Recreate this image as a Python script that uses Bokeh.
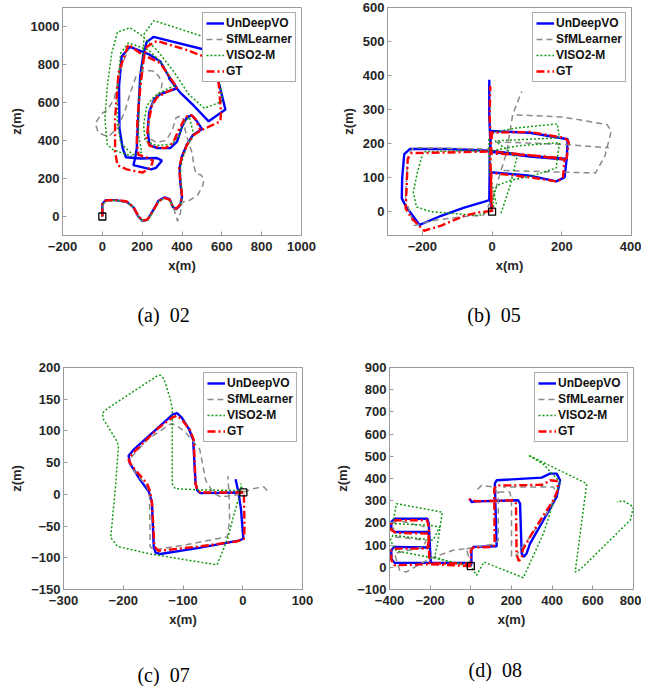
from bokeh.plotting import figure
from bokeh.models import FixedTicker
from bokeh.core.properties import value
from bokeh.layouts import column, row
from bokeh.embed import file_html
from bokeh.resources import INLINE

nan = float("nan")

# ---------------- (a) sequence 02 ----------------
a_und_x = [0, 0, 17, 64, 123, 156, 181, 203, 227, 254, 282, 311, 338, 354, 371, 391, 400, 391, 388, 400, 425, 455, 501, 475, 450, 425, 400, 375, 341, 274, 237, 228, 235, 260, 291, 375, 333, 291, 232, 139, 97, 84, 86, 102, 119, 190, 274, 299, 270, 244, 156, 165, 173, 181, 190, 207, 223, 257, 576, 585, 618, 534, 459, 391, 333]
a_und_y = [0, 66, 86, 86, 77, 48, 0, -24, -16, 31, 83, 100, 91, 50, 38, 60, 102, 188, 256, 317, 380, 429, 460, 501, 532, 523, 472, 394, 360, 360, 377, 446, 549, 618, 644, 675, 738, 816, 855, 893, 842, 687, 463, 360, 312, 305, 308, 294, 256, 248, 270, 308, 360, 549, 738, 859, 919, 945, 862, 704, 563, 501, 583, 652, 730]
a_sfm_x = [0, 0, 20, 65, 122, 158, 183, 205, 229, 255, 283, 310, 335, 352, 362, 372, 378, 392, 400, 440, 480, 505, 510, 495, 470, 460, 452, 430, 412, 412, 395, 370, 350, 320, 270, 240, 232, 240, 262, 295, 300, 285, 260, 210, 170, 140, 115, 80, 30, -20, -35, -5, 25, 60, 80, 100, 130]
a_sfm_y = [0, 62, 80, 85, 76, 45, 0, -25, -18, 25, 78, 95, 85, 55, 30, -5, -25, 20, 75, 86, 115, 165, 195, 220, 225, 265, 330, 400, 470, 505, 530, 520, 450, 400, 390, 410, 460, 560, 620, 665, 700, 735, 765, 770, 740, 650, 560, 470, 420, 440, 490, 540, 560, 620, 720, 800, 880]
a_viso_x = [0, 2, 20, 66, 125, 158, 183, 205, 229, 256, 284, 312, 339, 356, 372, 392, 402, 394, 392, 405, 425, 459, 437, 405, 383, 349, 274, 215, 207, 223, 260, 316, 366, 333, 291, 232, 131, 92, 76, 76, 92, 153, 198, 181, 186, 203, 210, 260, 512, 573, 601, 598, 512, 433, 358, 274, 190, 139, 76, 47, 25, 13, 25, 55, 148]
a_viso_y = [0, 62, 82, 85, 76, 46, -2, -25, -17, 27, 80, 96, 87, 52, 38, 62, 108, 190, 255, 310, 370, 429, 523, 489, 420, 382, 373, 398, 480, 583, 632, 666, 690, 747, 816, 876, 914, 859, 669, 497, 385, 325, 339, 429, 669, 824, 962, 1031, 945, 773, 635, 604, 570, 644, 764, 876, 959, 993, 971, 859, 687, 515, 377, 351, 317]
a_gt_x = [0, 0, 18, 64, 123, 156, 181, 203, 227, 254, 282, 311, 338, 354, 371, 391, 400, 391, 386, 400, 425, 459, 497, 593, 596, 585, 576, 425, 274, 223, 207, 190, 176, 173, 181, 223, 254, 244, 203, 123, 76, 64, 64, 81, 131, 190, 291, 341, 375, 316, 274, 249, 232, 223, 237, 274, 316, 354, 383, 417, 445, 467, 492]
a_gt_y = [0, 64, 84, 88, 79, 50, 2, -22, -15, 29, 81, 98, 89, 53, 41, 64, 110, 188, 256, 317, 377, 429, 454, 501, 549, 687, 816, 876, 924, 893, 824, 669, 515, 394, 325, 311, 294, 260, 231, 248, 270, 342, 515, 756, 905, 859, 807, 730, 678, 652, 626, 583, 497, 411, 372, 365, 360, 385, 454, 523, 535, 515, 454]
a_start_x = [0]
a_start_y = [0]
a_xticks = [-200, 0, 200, 400, 600, 800, 1000]
a_yticks = [0, 200, 400, 600, 800, 1000]

# ---------------- (b) sequence 05 ----------------
b_und_x = [0, -6, -5, 108, 184, 208, 214, 108, -5, -127, -236, -252, -258, -259, -248, -208, -146, -80, -24, -8, -7, -7, -2, 108, 217, 214, 108, -4, -8, -8]
b_und_y = [0, 39, 116, 106, 89, 101, 155, 164, 179, 184, 184, 169, 97, 39, 17, -39, -12, 12, 29, 34, 116, 179, 237, 232, 213, 153, 162, 176, 280, 388]
b_sfm_x = [0, -5, -226, -242, -248, -224, -175, -80, -24, 5, 24, 42, 59, 85, nan, 33, 203, 297, 324, 342, 330, 203, 59, nan, 9, 203, 335]
b_sfm_y = [0, 184, 188, 164, 39, -41, -27, -14, -10, 48, 116, 174, 285, 353, nan, 121, 116, 114, 164, 237, 256, 278, 285, nan, 205, 198, 188]
b_viso_x = [0, 5, 14, 52, 118, 184, 193, 71, 0, -80, -198, -214, -226, -217, -175, -80, -38, -14, 12, -7, -9, 5, 71, 187, 193, 108, 9, 71, 52, 24]
b_viso_y = [0, 48, 77, 92, 106, 128, 203, 193, 179, 179, 176, 116, 58, 14, 0, -8, -12, 0, 24, 116, 213, 234, 246, 258, 217, 213, 208, 159, 77, -10]
b_gt_x = [0, -3, -2, 108, 184, 203, 208, 108, -2, -127, -231, -242, -245, -248, -231, -195, -146, -80, -38, -2, -3, -5, 0, 108, 208, 220, 214, 108, -2, -7, -5]
b_gt_y = [0, 77, 114, 101, 89, 97, 153, 166, 177, 174, 172, 155, 77, 10, -19, -56, -41, -12, -2, 2, 77, 174, 232, 234, 217, 205, 156, 166, 171, 280, 369]
b_start_x = [0]
b_start_y = [0]
b_xticks = [-200, 0, 200, 400]
b_yticks = [0, 100, 200, 300, 400, 500, 600]

# ---------------- (c) sequence 07 ----------------
c_und_x = [0, -71, -76, -79, -83, -90, -102, -110, -117, -182, -191, -189, -171, -157, -152, -149, -146, -138, -71, -7, 1, -3, -7, -12]
c_und_y = [3, 2, 6, 17, 86, 103, 121, 128, 126, 71, 61, 49, 22, 4, -13, -82, -92, -94, -84, -73, -70, -23, 2, 24]
c_sfm_x = [41, 35, 18, -15, -37, -49, -62, -72, -96, -113, -121, -160, -191, -185, -160, -156, -155, -149, -93, -26, -22, -23, -25]
c_sfm_y = [6, 12, 9, -2, -4, 2, 22, 71, 98, 110, 111, 86, 54, 41, 12, -3, -82, -88, -79, -67, -42, 2, 29]
c_viso_x = [0, -3, -3, -15, -26, -43, -71, -155, -210, -216, -221, -213, -208, -210, -233, -235, -227, -143, -138, -132, -121, -118, -118, -113, -71, -3]
c_viso_y = [3, 17, 6, -33, -72, -111, -107, -94, -82, -74, -68, 12, 76, 83, 118, 128, 135, 187, 188, 182, 150, 135, 17, 9, 7, 6]
c_gt_x = [1, -71, -76, -79, -82, -88, -102, -110, -118, -143, -188, -191, -185, -160, -155, -152, -149, -148, -141, -71, -9, 2, 3, 2, 1]
c_gt_y = [3, 3, 7, 17, 86, 101, 118, 124, 121, 103, 61, 54, 44, 17, 4, -13, -62, -82, -89, -82, -74, -70, -52, -3, 3]
c_start_x = [1]
c_start_y = [3]
c_xticks = [-300, -200, -100, 0, 100]
c_yticks = [-150, -100, -50, 0, 50, 100, 150, 200]

# ---------------- (d) sequence 08 ----------------
d_und_x = [0, 3, -202, -375, -391, -391, -378, -210, -202, -207, -375, -391, -391, -375, -214, -207, -197, 3, 3, 12, 127, 118, 127, 348, 389, 422, 439, 422, 291, 274, 261, 250, 242, 233, 28, 3, -5]
d_und_y = [5, 20, 20, 20, 39, 77, 92, 89, 107, 159, 159, 174, 204, 219, 219, 197, 20, 20, 77, 92, 95, 377, 392, 404, 422, 422, 392, 317, 107, 62, 47, 62, 287, 302, 297, 294, 309]
d_sfm_x = [0, -21, -87, -202, -317, -350, -375, -235, -219, -375, -383, -358, -227, nan, -21, 110, 135, 135, 110, 53, 28, nan, 135, 192, 200, 200, 217, 291, 373, 422, 406, 159]
d_sfm_y = [5, 84, 77, 39, -21, -14, 62, 92, 122, 137, 197, 212, 182, nan, 84, 104, 122, 332, 362, 369, 347, nan, 339, 339, 302, 50, 47, 137, 242, 332, 362, 362]
d_viso_x = [0, -71, -169, -366, -396, -383, -186, -153, -202, -383, -375, -366, -140, -161, -177, -104, 0, 28, 64, 258, 357, 439, 357, 283, 570, 513, 537, 784, 800, 751, 718]
d_viso_y = [5, 20, 39, 74, 122, 144, 122, 182, 189, 197, 242, 287, 248, 122, 47, 24, 5, -36, 24, -47, 152, 384, 464, 505, 377, -21, -11, 212, 272, 299, 294]
d_gt_x = [0, -202, -375, -391, -391, -375, -214, -207, -210, -366, -391, -391, -371, -215, -207, -205, -202, 0, 0, 12, 110, 117, 115, 127, 225, 357, 389, 422, 430, 406, 357, 291, 255, 250, 235, 225, 222, 209, 28, -5, -13]
d_gt_y = [5, 14, 9, 32, 77, 84, 84, 122, 152, 155, 167, 200, 212, 212, 182, 47, 17, 17, 77, 89, 92, 107, 354, 369, 369, 372, 392, 389, 354, 302, 234, 137, 77, 39, 29, 62, 287, 302, 297, 305, 317]
d_start_x = [0]
d_start_y = [5]
d_xticks = [-400, -200, 0, 200, 400, 600, 800]
d_yticks = [-100, 0, 100, 200, 300, 400, 500, 600, 700, 800, 900]

captions = ["(a)\u00a0\u00a002", "(b)\u00a0\u00a005", "(c)\u00a0\u00a007", "(d)\u00a0\u00a008"]
labels = ["UnDeepVO", "SfMLearner", "VISO2-M", "GT"]
styles = [
    dict(line_color="#0000ff", line_width=2.4),
    dict(line_color="#8a8a8a", line_width=1.5, line_dash="6 4"),
    dict(line_color="#139a13", line_width=1.5, line_dash="2 2"),
    dict(line_color="#ff0000", line_width=2.4, line_dash="8 3 2 3"),
]

TXT = "#262626"
FRAME = "#9a9a9a"


def panel(series, sx, sy, xr, yr, xt, yt, w, h, ml, mr, mt, mb):
    p = figure(width=w, height=h, x_range=xr, y_range=yr, output_backend="svg",
               toolbar_location=None, min_border_left=ml, min_border_right=mr,
               min_border_top=mt, min_border_bottom=mb)
    p.grid.visible = False
    p.outline_line_color = FRAME
    p.outline_line_width = 1
    for (xs, ys), lab, st in zip(series, labels, styles):
        p.line(xs, ys, legend_label=lab, **st)
    p.scatter(sx, sy, marker="square", size=7, fill_color=None, line_color="black", line_width=1.3)
    p.xaxis.ticker = FixedTicker(ticks=xt)
    p.yaxis.ticker = FixedTicker(ticks=yt)
    p.xaxis.axis_label = "x(m)"
    p.yaxis.axis_label = "z(m)"
    for ax in (p.xaxis[0], p.yaxis[0]):
        ax.major_tick_in = 4
        ax.major_tick_out = 0
        ax.minor_tick_line_color = None
        ax.major_tick_line_color = FRAME
        ax.axis_line_color = FRAME
        ax.major_label_text_font = "Liberation Sans"
        ax.major_label_text_font_style = "bold"
        ax.major_label_text_font_size = "13px"
        ax.major_label_text_color = TXT
        ax.axis_label_text_font = "Liberation Sans"
        ax.axis_label_text_font_style = "bold"
        ax.axis_label_text_font_size = "13px"
        ax.axis_label_text_color = TXT
    p.xaxis.major_label_standoff = 6
    p.yaxis.major_label_standoff = 3
    p.xaxis.axis_label_standoff = 4
    p.yaxis.axis_label_standoff = 4
    lg = p.legend[0]
    lg.location = "top_right"
    lg.margin = 5
    lg.padding = 3
    lg.spacing = 2
    lg.glyph_width = 18
    lg.glyph_height = 14
    lg.label_height = 14
    lg.label_standoff = 2
    lg.label_text_font = "Liberation Sans"
    lg.label_text_font_style = "bold"
    lg.label_text_font_size = "12px"
    lg.label_text_color = "#111111"
    lg.border_line_color = "#555555"
    lg.border_line_width = 1
    lg.background_fill_alpha = 1
    return p


def caption_fig(text, w, h, fx, fy):
    c = figure(width=w, height=h, x_range=(0, 1), y_range=(0, 1), output_backend="svg",
               toolbar_location=None, min_border=0)
    c.axis.visible = False
    c.grid.visible = False
    c.outline_line_color = None
    c.text(x=[fx], y=[fy], text=[text], text_align="left", text_baseline="middle",
           text_font=value("Liberation Serif"), text_font_size=value("20px"),
           text_color="#000000")
    return c


pa = panel([(a_und_x, a_und_y), (a_sfm_x, a_sfm_y), (a_viso_x, a_viso_y), (a_gt_x, a_gt_y)],
           a_start_x, a_start_y, (-200, 1000), (-100, 1100), a_xticks, a_yticks,
           330, 290, 62, 29, 4, 55)
pb = panel([(b_und_x, b_und_y), (b_sfm_x, b_sfm_y), (b_viso_x, b_viso_y), (b_gt_x, b_gt_y)],
           b_start_x, b_start_y, (-300, 400), (-70, 600), b_xticks, b_yticks,
           311, 290, 57, 10, 7, 53)
pc = panel([(c_und_x, c_und_y), (c_sfm_x, c_sfm_y), (c_viso_x, c_viso_y), (c_gt_x, c_gt_y)],
           c_start_x, c_start_y, (-300, 100), (-150, 200), c_xticks, c_yticks,
           330, 312, 63, 28, 25, 51)
pd_ = panel([(d_und_x, d_und_y), (d_sfm_x, d_sfm_y), (d_viso_x, d_viso_y), (d_gt_x, d_gt_y)],
            d_start_x, d_start_y, (-400, 800), (-100, 900), d_xticks, d_yticks,
            311, 312, 59, 8, 29, 61)

ca = caption_fig(captions[0], 330, 48, 0.415, 0.5)
cb = caption_fig(captions[1], 311, 48, 0.44, 0.5)
cc = caption_fig(captions[2], 330, 36, 0.415, 0.333)
cd = caption_fig(captions[3], 311, 36, 0.444, 0.47)

layout = column(row(pa, pb), row(ca, cb), row(pc, pd_), row(cc, cd))
open("out.html", "w").write(file_html(layout, INLINE))
